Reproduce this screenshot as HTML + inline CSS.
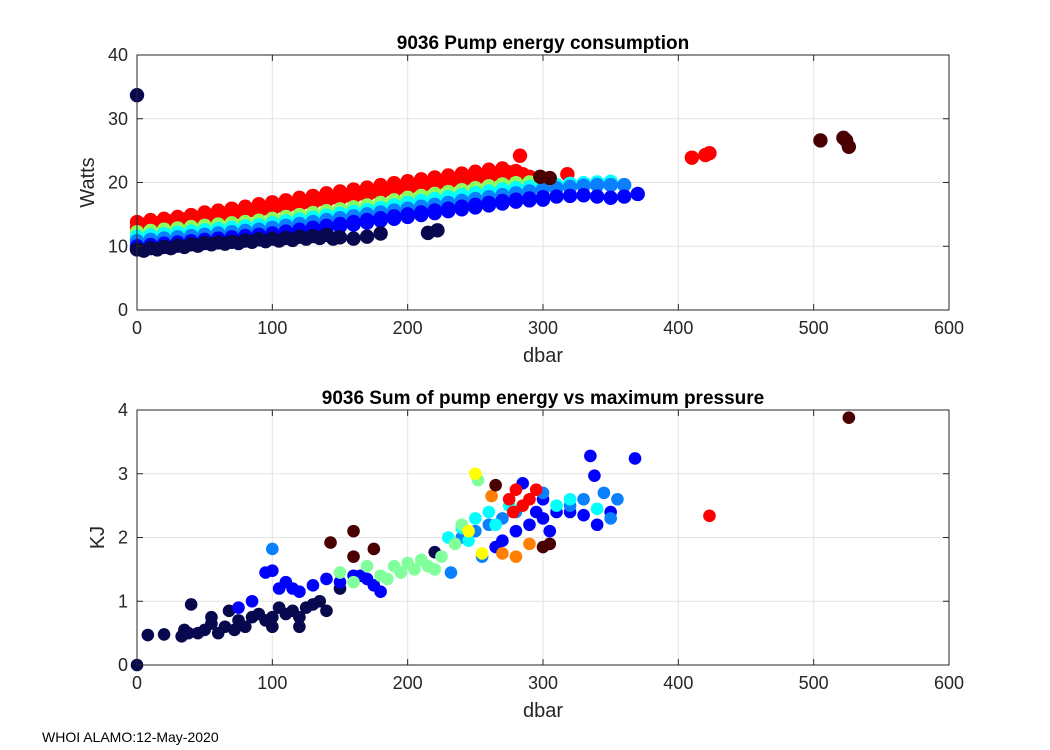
<!DOCTYPE html>
<html><head><meta charset="utf-8"><style>
body{margin:0;background:#fff;}
svg{display:block;font-family:"Liberation Sans",Arial,sans-serif;}
</style></head><body>
<svg id="fig" width="1050" height="750" viewBox="0 0 1050 750" xmlns="http://www.w3.org/2000/svg">
<rect width="1050" height="750" fill="#fff"/>
<text x="42" y="742" font-size="14" fill="#000">WHOI ALAMO:12-May-2020</text>
</svg>
<script>
// ---- top chart data ----
const topRedX=[0,10,20,30,40,50,60,70,80,90,100,110,120,130,140,150,160,170,180,190,200,210,220,230,240,250,260,270,280,290,5,15,25,35,45,55,65,75,85,95,105,115,125,135,145,155,165,175,185,195,205,215,225,235,245,255,265,275,285,295,0,10,20,30,40,50,60,70,80,90,100,110,120,130,140,150,160,170,180,190,200,210,220,230,240,250,260,270,280,290,410,420,423,318,283];
const topRedY=[13.8,14.1,14.3,14.6,14.9,15.3,15.6,15.9,16.2,16.6,16.9,17.2,17.6,17.9,18.3,18.6,18.9,19.2,19.6,19.9,20.2,20.5,20.8,21.1,21.4,21.7,22.0,22.2,21.8,20.9,13.4,13.6,13.9,14.2,14.5,14.8,15.1,15.4,15.7,16.0,16.4,16.7,17.0,17.4,17.7,18.0,18.3,18.6,19.0,19.3,19.6,19.9,20.2,20.5,20.8,21.1,21.4,21.6,21.3,20.6,12.9,13.2,13.4,13.7,14.0,14.3,14.6,14.9,15.2,15.5,15.8,16.1,16.5,16.8,17.1,17.4,17.7,18.0,18.3,18.6,18.9,19.2,19.5,19.8,20.1,20.4,20.7,20.9,20.6,20.2,23.9,24.3,24.6,21.3,24.2];
const topGreenX=[0,10,20,30,40,50,60,70,80,90,100,110,120,130,140,150,160,170,180,190,200,210,220,230,240,250,260,270,280,290,300];
const topGreenY=[12.2,12.4,12.6,12.8,13.0,13.2,13.4,13.6,13.8,14.0,14.3,14.6,14.9,15.2,15.5,15.8,16.1,16.4,16.8,17.2,17.6,17.9,18.2,18.5,18.8,19.1,19.4,19.7,19.9,20.0,20.0];
const topCyanX=[0,10,20,30,40,50,60,70,80,90,100,110,120,130,140,150,160,170,180,190,200,210,220,230,240,250,260,270,280,290,300,310,320,330,340,350];
const topCyanY=[11.5,11.7,11.9,12.1,12.3,12.5,12.7,12.9,13.1,13.3,13.6,13.9,14.2,14.5,14.8,15.1,15.4,15.7,16.0,16.4,16.8,17.1,17.4,17.7,18.0,18.3,18.6,18.9,19.1,19.3,19.5,19.6,19.8,19.9,20.0,20.1];
const topLightBlueX=[0,10,20,30,40,50,60,70,80,90,100,110,120,130,140,150,160,170,180,190,200,210,220,230,240,250,260,270,280,290,300,310,320,330,340,350,360];
const topLightBlueY=[10.8,11.0,11.2,11.4,11.6,11.8,12.0,12.2,12.4,12.6,12.9,13.2,13.5,13.8,14.1,14.4,14.7,15.0,15.3,15.6,15.9,16.2,16.5,16.8,17.1,17.4,17.7,18.0,18.3,18.6,18.9,19.1,19.3,19.5,19.6,19.6,19.6];
const topBlueX=[0,10,20,30,40,50,60,70,80,90,100,110,120,130,140,150,160,170,180,190,200,210,220,230,240,250,260,270,280,290,300,310,320,330,340,350,360,370,0,10,20,30,40,50,60,70,80,90,100,110,120,130,140,150,160,170,180,190,200,210,220,230,240,250,260,270,280,290,300];
const topBlueY=[10.0,10.2,10.4,10.6,10.8,11.0,11.2,11.4,11.6,11.8,12.0,12.3,12.6,12.9,13.2,13.5,13.8,14.1,14.4,14.7,15.0,15.3,15.6,15.9,16.2,16.5,16.8,17.1,17.3,17.5,17.7,17.8,17.9,18.0,17.8,17.6,17.8,18.2,9.6,9.8,10.0,10.2,10.4,10.6,10.8,11.0,11.2,11.4,11.6,11.9,12.2,12.5,12.8,13.1,13.4,13.7,14.0,14.3,14.6,14.9,15.2,15.5,15.8,16.1,16.4,16.7,17.0,17.2,17.3];
const topNavyX=[0,10,20,30,40,50,60,70,80,90,100,110,120,130,140,150,160,170,180,5,15,25,35,45,55,65,75,85,95,105,115,125,135,145,0,215,222];
const topNavyY=[9.5,9.7,9.9,10.1,10.3,10.5,10.6,10.7,10.9,11.1,11.2,11.3,11.5,11.6,11.8,11.4,11.2,11.5,12.0,9.3,9.5,9.7,9.9,10.1,10.3,10.4,10.5,10.7,10.8,10.9,11.0,11.2,11.3,11.2,33.7,12.1,12.5];
const topDarkRedX=[505,522,524,526,298,305];
const topDarkRedY=[26.6,27.0,26.6,25.6,20.9,20.7];
// ---- bottom chart data ----
const botNavyX=[0,8,20,33,35,38,40,45,50,55,55,60,65,68,72,75,80,85,90,95,100,105,110,115,120,125,130,135,140,150,220,120,100];
const botNavyY=[0,0.47,0.48,0.45,0.55,0.5,0.95,0.5,0.55,0.65,0.75,0.5,0.6,0.85,0.55,0.7,0.6,0.75,0.8,0.7,0.75,0.9,0.8,0.85,0.75,0.9,0.95,1.0,0.85,1.2,1.77,0.6,0.6];
const botBlueX=[75,85,95,100,105,110,115,120,130,140,150,160,165,170,175,180,270,280,285,290,295,300,305,310,320,330,335,340,350,368,338,265,300];
const botBlueY=[0.9,1.0,1.45,1.48,1.2,1.3,1.2,1.15,1.25,1.35,1.3,1.4,1.4,1.35,1.25,1.15,1.95,2.1,2.85,2.2,2.4,2.3,2.1,2.4,2.4,2.35,3.28,2.2,2.4,3.24,2.97,1.85,2.6];
const botLightBlueX=[100,250,260,270,280,300,320,330,345,355,350,232,255,240];
const botLightBlueY=[1.82,2.1,2.2,2.3,2.4,2.7,2.5,2.6,2.7,2.6,2.3,1.45,1.7,2.0];
const botCyanX=[230,240,250,260,265,275,310,320,340,245];
const botCyanY=[2.0,2.15,2.3,2.4,2.2,2.5,2.5,2.6,2.45,1.95];
const botGreenX=[150,160,170,180,190,195,200,205,210,215,220,225,185,240,252,235];
const botGreenY=[1.45,1.3,1.55,1.4,1.55,1.45,1.6,1.5,1.65,1.55,1.5,1.7,1.35,2.2,2.9,1.9];
const botYellowX=[250,255,245];
const botYellowY=[3.0,1.75,2.1];
const botOrangeX=[262,270,280,290];
const botOrangeY=[2.65,1.75,1.7,1.9];
const botRedX=[275,280,285,290,295,423,278];
const botRedY=[2.6,2.75,2.5,2.6,2.75,2.34,2.4];
const botDarkRedX=[143,160,160,175,265,305,300,526];
const botDarkRedY=[1.92,2.1,1.7,1.82,2.82,1.9,1.85,3.88];
const xTicks=[0,100,200,300,400,500,600];
const topYTicks=[0,10,20,30,40];
const botYTicks=[0,1,2,3,4];

const NS="http://www.w3.org/2000/svg";
const svg=document.getElementById('fig');
function mk(tag,attrs,parent){const e=document.createElementNS(NS,tag);for(const k in attrs)e.setAttribute(k,attrs[k]);(parent||svg).appendChild(e);return e;}

function axes(prefix,top,bottom,ymax,yTicks,title,ylabel,ylabelX,series,rad){
  const L=137,R=949;
  const sx=v=>L+(v/600)*(R-L);
  const sy=v=>bottom-(v/ymax)*(bottom-top);
  const g=mk('g',{});
  
  
  mk('rect',{x:L,y:top,width:R-L,height:bottom-top,fill:'#fff'},g);
  xTicks.forEach(t=>{const l=mk('line',{x1:sx(t),x2:sx(t),y1:top,y2:bottom,stroke:'#e3e3e3','stroke-width':1},g);
    });
  yTicks.forEach(t=>{const l=mk('line',{x1:L,x2:R,y1:sy(t),y2:sy(t),stroke:'#e3e3e3','stroke-width':1},g);
    });
  const pts=mk('g',{},g);
  
  
  series.forEach(s=>{s.x.forEach((xv,i)=>{const c=mk('circle',{cx:sx(xv),cy:sy(s.y[i]),r:rad,fill:s.c},pts);
    });});
  const box=mk('rect',{x:L,y:top,width:R-L,height:bottom-top,fill:'none',stroke:'#262626','stroke-width':1},g);
  
  xTicks.forEach(t=>{mk('line',{x1:sx(t),x2:sx(t),y1:bottom,y2:bottom-6,stroke:'#262626'},g);mk('line',{x1:sx(t),x2:sx(t),y1:top,y2:top+6,stroke:'#262626'},g);
    const tx=mk('text',{x:sx(t),y:bottom+24,'text-anchor':'middle','font-size':18,fill:'#262626'},g);tx.textContent=t;
    });
  yTicks.forEach(t=>{mk('line',{x1:L,x2:L+6,y1:sy(t),y2:sy(t),stroke:'#262626'},g);mk('line',{x1:R,x2:R-6,y1:sy(t),y2:sy(t),stroke:'#262626'},g);
    const tx=mk('text',{x:L-9,y:sy(t)+6,'text-anchor':'end','font-size':18,fill:'#262626'},g);tx.textContent=t;
    });
  const ti=mk('text',{x:(L+R)/2,y:top-6,'text-anchor':'middle','font-size':19,'font-weight':'bold',fill:'#000'},g);ti.textContent=title;
  
  const xl=mk('text',{x:(L+R)/2,y:bottom+52,'text-anchor':'middle','font-size':20,fill:'#262626'},g);xl.textContent='dbar';
  
  const yl=mk('text',{x:ylabelX,y:(top+bottom)/2,'text-anchor':'middle','font-size':20,fill:'#262626',transform:`rotate(-90 ${ylabelX} ${(top+bottom)/2})`},g);yl.textContent=ylabel;
  
}
axes('top',55,310,40,topYTicks,'9036 Pump energy consumption','Watts',94,[
  {c:'#ff0000',x:topRedX,y:topRedY},{c:'#8cff5a',x:topGreenX,y:topGreenY},{c:'#00ffff',x:topCyanX,y:topCyanY},
  {c:'#0a80ff',x:topLightBlueX,y:topLightBlueY},{c:'#0000ff',x:topBlueX,y:topBlueY},{c:'#08084f',x:topNavyX,y:topNavyY},
  {c:'#4a0000',x:topDarkRedX,y:topDarkRedY}],7.2);
axes('bottom',410,665,4,botYTicks,'9036 Sum of pump energy vs maximum pressure','KJ',104,[
  {c:'#08084f',x:botNavyX,y:botNavyY},{c:'#0000ff',x:botBlueX,y:botBlueY},{c:'#0a80ff',x:botLightBlueX,y:botLightBlueY},
  {c:'#00ffff',x:botCyanX,y:botCyanY},{c:'#80ff9a',x:botGreenX,y:botGreenY},{c:'#ffff00',x:botYellowX,y:botYellowY},
  {c:'#ff8000',x:botOrangeX,y:botOrangeY},{c:'#ff0000',x:botRedX,y:botRedY},{c:'#4a0000',x:botDarkRedX,y:botDarkRedY}],6.3);
</script>
</body></html>
